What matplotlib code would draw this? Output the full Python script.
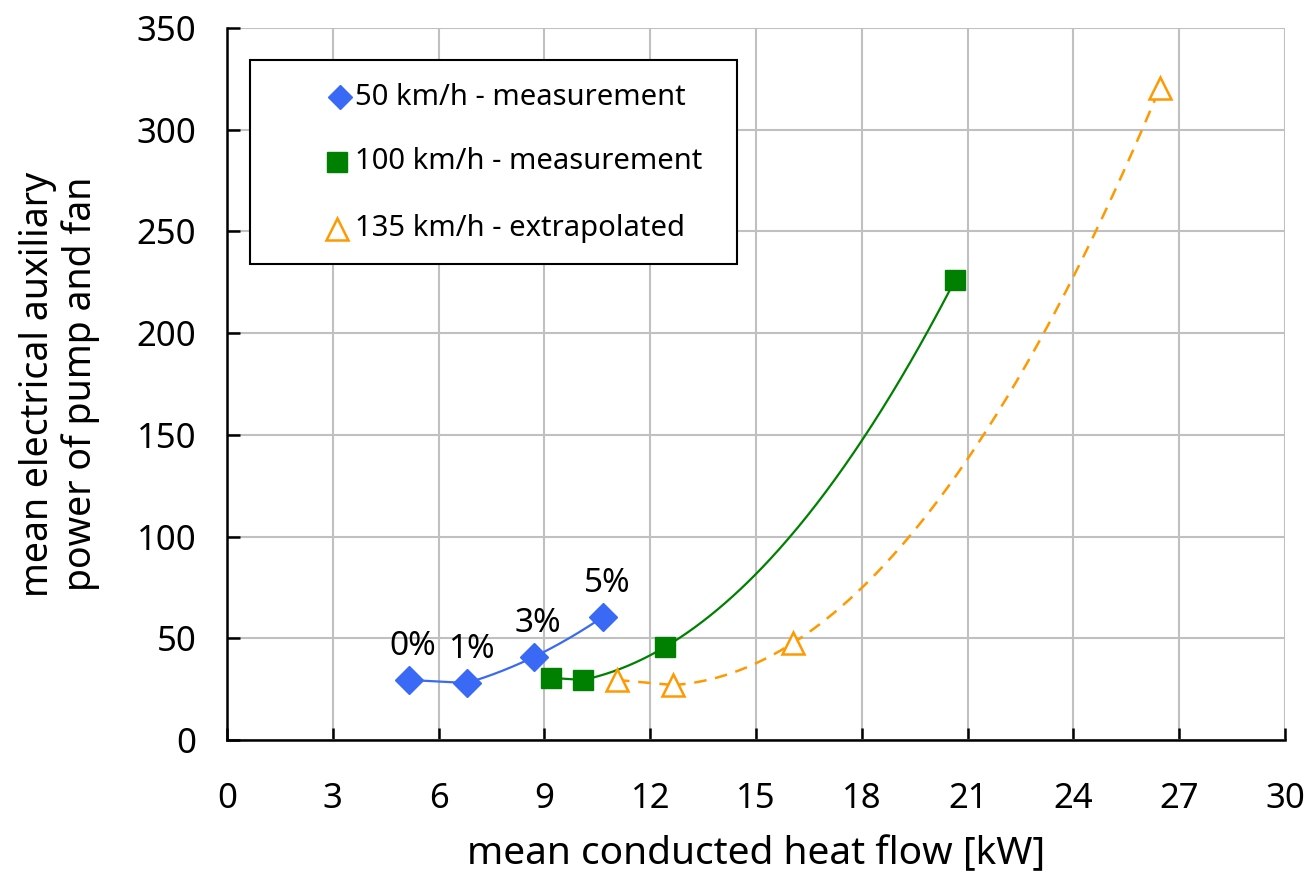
import numpy as np
import matplotlib
matplotlib.use("Agg")
import matplotlib.pyplot as plt
from matplotlib.patches import Rectangle

plt.rcParams['font.family'] = ['Noto Sans', 'DejaVu Sans']

# Data
x50 = [5.16, 6.80, 8.70, 10.66]
y50 = [29.5, 28.0, 40.8, 60.5]
labels50 = ["0%", "1%", "3%", "5%"]

x100 = [9.19, 10.09, 12.42, 20.64]
y100 = [30.5, 29.5, 45.7, 226.0]

x135 = [11.06, 12.65, 16.05, 26.45]
y135 = [29.5, 27.0, 47.7, 320.5]

legend_labels = ["50 km/h - measurement", "100 km/h - measurement", "135 km/h - extrapolated"]

xticks = list(range(0, 31, 3))
yticks = list(range(0, 351, 50))

c50 = "#3A6AF5"
c100 = "#008000"
c135 = "#FF9900"

fig = plt.figure(figsize=(13.09, 8.76), dpi=100)
ax = fig.add_axes([0.1734, 0.1553, 0.8083, 0.8127])


def draw_smooth(ax, xs, ys, **kw):
    # straight segment between the first two points, quadratic smoothing through the rest
    ax.plot(xs[:2], ys[:2], **kw)
    c = np.polyfit(xs[1:], ys[1:], 2)
    xx = np.linspace(xs[1], xs[-1], 200)
    ax.plot(xx, np.polyval(c, xx), **kw)


draw_smooth(ax, x50, y50, color=c50, lw=1.6, zorder=3)
draw_smooth(ax, x100, y100, color=c100, lw=1.6, zorder=3)
draw_smooth(ax, x135, y135, color=c135, lw=1.8, ls=(0, (5, 3.5)), zorder=3)

mk50 = dict(marker="D", ms=14, color=c50)
mk100 = dict(marker="s", ms=14, color=c100)
mk135 = dict(marker="^", ms=16, mfc="white", mec=c135, mew=1.8)

ax.plot(x50, y50, ls="none", zorder=4, **mk50)
ax.plot(x100, y100, ls="none", zorder=4, **mk100)
ax.plot(x135, y135, ls="none", zorder=4, **mk135)

# manual legend box
ax.add_patch(Rectangle((0.0217, 0.6685), 0.4603, 0.2865, transform=ax.transAxes,
                       facecolor="white", edgecolor="black", lw=1.5, zorder=6))
rows_y = [0.903, 0.812, 0.718]
mks = [dict(mk50, ms=12), mk100, mk135]
mx = [0.107, 0.104, 0.104]
for yy, m, lab, xm in zip(rows_y, mks, legend_labels, mx):
    ax.plot([xm], [yy], ls="none", transform=ax.transAxes, zorder=7, clip_on=False, **m)
    ax.text(0.121, yy, lab, transform=ax.transAxes, fontsize=21, va="center", ha="left", zorder=7)

for xv, yv, t in zip(x50, y50, labels50):
    ax.annotate(t, (xv, yv), xytext=(3, 24), textcoords="offset points",
                ha="center", va="center", fontsize=24)

ax.set_xlim(0, 30)
ax.set_ylim(0, 350)
ax.set_xticks(xticks)
ax.set_yticks(yticks)
ax.grid(True, color="#C0C0C0", lw=1.5)
ax.set_axisbelow(True)
for s in ["top", "right"]:
    ax.spines[s].set_visible(False)
for s in ["left", "bottom"]:
    ax.spines[s].set_linewidth(1.8)
ax.tick_params(direction="in", length=9, width=1.8, labelsize=25)
ax.tick_params(axis="x", pad=30)
ax.tick_params(axis="y", pad=22)

ax.set_xlabel("mean conducted heat flow [kW]", fontsize=28, labelpad=14)
ax.set_ylabel("mean electrical auxiliary\npower of pump and fan", fontsize=27,
              labelpad=26, linespacing=1.15)

fig.savefig("out.png", dpi=100)
